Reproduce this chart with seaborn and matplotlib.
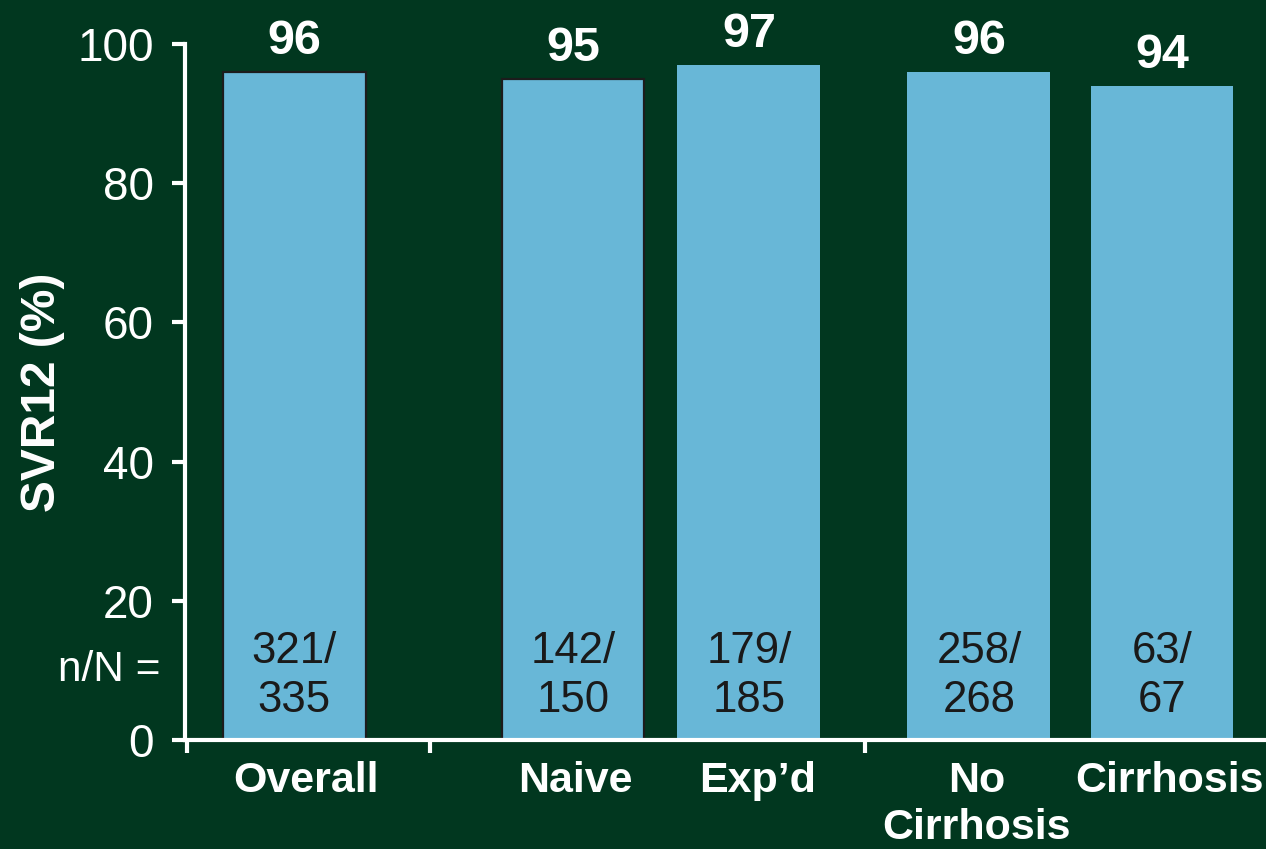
import matplotlib
matplotlib.use("Agg")
import matplotlib.pyplot as plt
import seaborn as sns
import pandas as pd

# SVR12 by subgroup
groups = ["Overall", "Naive", "Exp\u2019d", "No\nCirrhosis", "Cirrhosis"]
svr12 = [96, 95, 97, 96, 94]
n_resp = [321, 142, 179, 258, 63]
n_total = [335, 150, 185, 268, 67]
y_ticks = [0, 20, 40, 60, 80, 100]

# bar slots along the x axis, with wider gaps between subgroup blocks
slot_x = [0.0, 1.585, 2.585, 3.892, 4.932]
label_x = [0.068, 1.597, 2.636, 3.88, 4.972]
divider_x = [0.773, 3.244]
x_lim = (-0.62, 5.523)

BG = "#01371f"
BAR = "#68b7d7"
WHITE = "#ffffff"

sns.set_style("ticks")
plt.rcParams["font.family"] = ["Liberation Sans", "DejaVu Sans"]

fig = plt.figure(figsize=(12.66, 8.49), dpi=100, facecolor=BG)
ax = fig.add_axes([0.1461, 0.1284, 1 - 0.1461, 0.948 - 0.1284])
ax.set_facecolor(BG)

df = pd.DataFrame({"slot": slot_x, "svr12": svr12})
sns.barplot(data=df, x="slot", y="svr12", native_scale=True, width=0.8125,
            color=BAR, saturation=1, ax=ax, linewidth=0)

# thin dark outline on the first two bars
for i, p in enumerate(ax.patches):
    if i < 2:
        p.set_edgecolor("#1c1c1c")
        p.set_linewidth(1.6)
    p.set_zorder(2)

ax.bar_label(ax.containers[0], labels=[str(v) for v in svr12], padding=6,
             color=WHITE, fontsize=35, fontweight="bold")

for x, n, N in zip(slot_x, n_resp, n_total):
    ax.text(x, 9.2, f"{n}/\n{N}", ha="center", va="center", fontsize=31.5,
            color="#1a1a1a", linespacing=1.23, zorder=3)

ax.text(-0.023, 10.0, "n/N =", transform=ax.get_yaxis_transform(),
        ha="right", va="center", fontsize=30.5, color=WHITE)

ax.set_xlim(*x_lim)
ax.set_ylim(0, 100)
ax.set_yticks(y_ticks)
ax.set_yticklabels([str(t) for t in y_ticks], fontsize=33, color=WHITE)
ax.set_xticks(label_x)
ax.set_xticklabels(groups, fontsize=31, fontweight="bold", color=WHITE,
                   linespacing=1.24, va="top")
ax.set_xticks([x_lim[0] + 0.01] + divider_x, minor=True)

ax.tick_params(axis="x", which="major", length=0, pad=15)
ax.tick_params(axis="x", which="minor", length=9, width=3, color=WHITE,
               direction="out")
ax.tick_params(axis="y", length=9.5, width=3, color=WHITE, direction="out",
               pad=13)

ax.set_xlabel("")
ax.set_ylabel("SVR12 (%)", fontsize=34.5, fontweight="bold", color=WHITE,
              labelpad=9)

for side in ("top", "right"):
    ax.spines[side].set_visible(False)
for side in ("left", "bottom"):
    ax.spines[side].set_color(WHITE)
    ax.spines[side].set_linewidth(3)
    ax.spines[side].set_zorder(4)

fig.savefig("out.png", dpi=100, facecolor=BG)
